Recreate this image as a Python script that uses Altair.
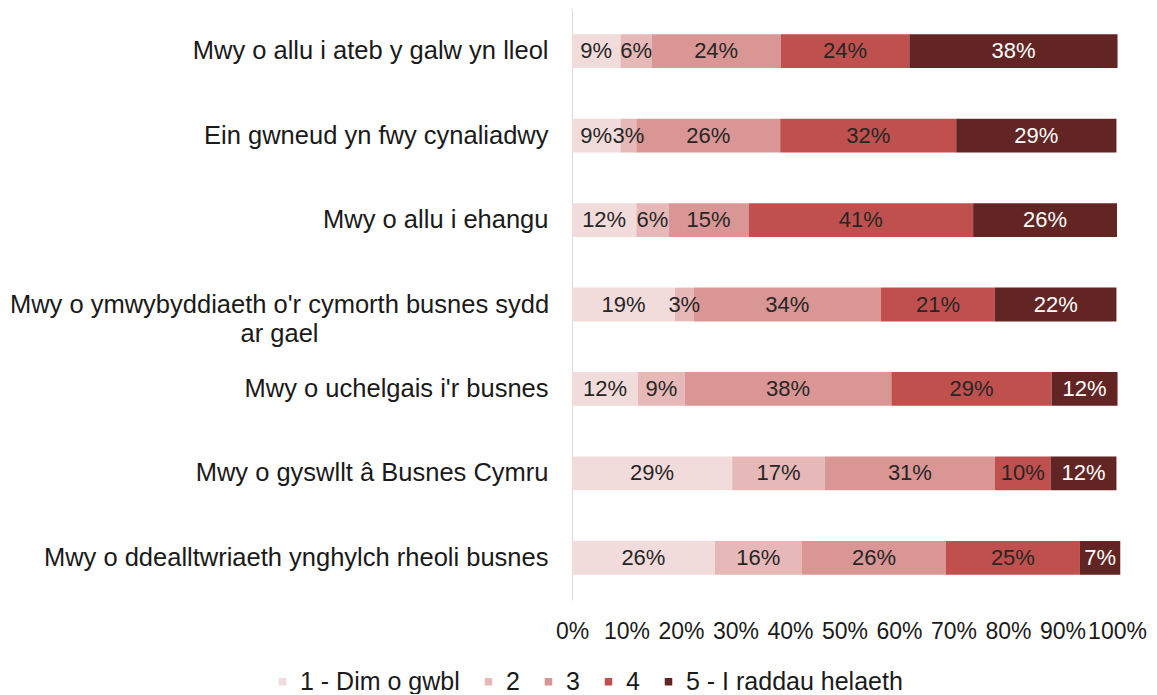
import altair as alt
import pandas as pd

categories = [
    "Mwy o allu i ateb y galw yn lleol",
    "Ein gwneud yn fwy cynaliadwy",
    "Mwy o allu i ehangu",
    "Mwy o ymwybyddiaeth o'r cymorth busnes sydd ar gael",
    "Mwy o uchelgais i'r busnes",
    "Mwy o gyswllt â Busnes Cymru",
    "Mwy o ddealltwriaeth ynghylch rheoli busnes",
]
series = ["1 - Dim o gwbl", "2", "3", "4", "5 - I raddau helaeth"]
colors = ["#f2dcdb", "#e6b9b8", "#d99694", "#c0504d", "#632523"]

s1 = [8.9, 8.9, 11.8, 18.9, 12.1, 29.4, 26.2]
s2 = [5.7, 2.9, 5.9, 3.4, 8.6, 17.0, 16.0]
s3 = [23.7, 26.4, 14.7, 34.4, 37.9, 31.2, 26.4]
s4 = [23.6, 32.3, 41.2, 20.9, 29.4, 10.2, 24.6]
s5 = [38.2, 29.4, 26.4, 22.3, 12.1, 12.1, 7.4]
values = [s1, s2, s3, s4, s5]

rows = []
for ci, c in enumerate(categories):
    for si, s in enumerate(series):
        v = values[si][ci]
        rows.append({"category": c, "series": s, "order": si, "value": v,
                     "label": f"{v:.0f}%"})
df = pd.DataFrame(rows)

FONT = "Liberation Sans"

base = alt.Chart(df).transform_stack(
    stack="value", as_=["x0", "x1"], groupby=["category"],
    sort=[alt.SortField("order", order="ascending")]
).transform_calculate(xm="(datum.x0 + datum.x1) / 2")

long_test = "indexof(datum.value, 'ar gael') > 0"

y_enc = alt.Y(
    "category:N", sort=categories,
    scale=alt.Scale(paddingInner=0.6, paddingOuter=0.3),
    axis=alt.Axis(
        title=None, ticks=False, domainColor="#d9d9d9", domainWidth=1,
        labelFont=FONT, labelFontSize=25.5, labelColor="#1a1a1a",
        labelLimit=800, labelLineHeight=29,
        labelExpr="indexof(datum.label, ' sydd ar gael') > 0 ? [replace(datum.label, ' ar gael', ''), 'ar gael'] : datum.label",
        labelAlign={"condition": {"test": long_test, "value": "center"}, "value": "right"},
        labelPadding={"condition": {"test": long_test, "value": 293}, "value": 24},
    ),
)

bars = base.mark_bar().encode(
    x=alt.X("x0:Q", scale=alt.Scale(domain=[0, 100], nice=False),
            axis=alt.Axis(values=list(range(0, 101, 10)),
                          labelExpr="datum.value + '%'", title=None,
                          domain=False, ticks=False, grid=False,
                          labelFont=FONT, labelFontSize=23, labelColor="#1a1a1a",
                          labelPadding=20, labelOverlap=False, labelFlush=False)),
    x2="x1:Q",
    y=y_enc,
    color=alt.Color("series:N", scale=alt.Scale(domain=series, range=colors),
                    legend=alt.Legend(title=None, orient="none", legendX=-302, legendY=660,
                                      direction="horizontal", symbolType="square",
                                      symbolSize=56, symbolStrokeWidth=0,
                                      labelFont=FONT, labelFontSize=25,
                                      labelColor="#1a1a1a", labelOffset=5,
                                      columnPadding=16, labelLimit=400)),
)

text = base.mark_text(font=FONT, fontSize=22).encode(
    x="xm:Q",
    y=alt.Y("category:N", sort=categories),
    text="label:N",
    color=alt.condition(alt.datum.order == 4, alt.value("#ffffff"), alt.value("#262626")),
)

chart = alt.layer(bars, text).properties(
    width=545, height=591,
    autosize=alt.AutoSizeParams(type="none"),
    padding={"left": 564, "top": 1, "right": 32, "bottom": 94},
).configure_view(stroke=None)

chart.save("out.html", embed_options={"renderer": "svg", "actions": False})
